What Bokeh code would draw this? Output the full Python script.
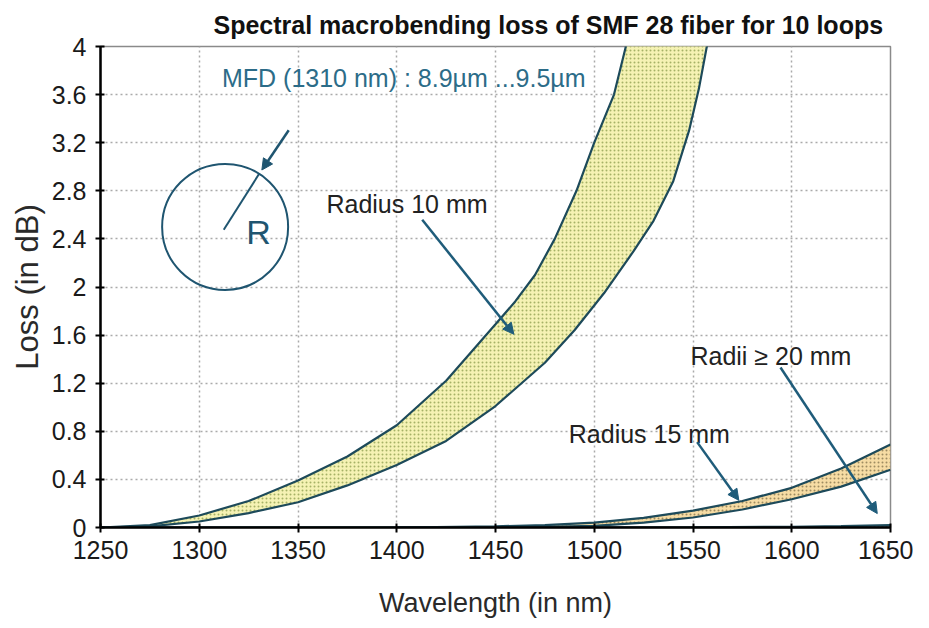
from bokeh.plotting import figure
from bokeh.models import Range1d, Label, Arrow, NormalHead, FixedTicker, Title
from bokeh.embed import file_html
from bokeh.resources import INLINE

# ---- data ----
r10_hi_wl = [1250, 1275, 1300, 1325, 1350, 1375, 1400, 1425, 1450, 1460, 1470, 1480, 1491, 1500, 1510, 1516, 1525]
r10_hi_db = [0.0, 0.02, 0.10, 0.22, 0.39, 0.59, 0.85, 1.22, 1.69, 1.88, 2.10, 2.40, 2.80, 3.20, 3.60, 4.00, 4.60]
r10_lo_wl = [1250, 1275, 1300, 1325, 1350, 1375, 1400, 1425, 1450, 1475, 1490, 1505, 1520, 1530, 1540,
             1548, 1553, 1557, 1565]
r10_lo_db = [0.0, 0.01, 0.05, 0.12, 0.21, 0.35, 0.52, 0.72, 1.01, 1.37, 1.64, 1.95, 2.30, 2.55, 2.88,
             3.30, 3.65, 4.00, 4.70]

r15_wl = [1400, 1450, 1475, 1500, 1525, 1550, 1575, 1600, 1625, 1650]
r15_hi_db = [0.0, 0.01, 0.02, 0.04, 0.08, 0.14, 0.22, 0.33, 0.49, 0.69]
r15_lo_db = [0.0, 0.0, 0.005, 0.014, 0.04, 0.083, 0.15, 0.235, 0.34, 0.48]

r20_wl = [1250, 1500, 1550, 1600, 1625, 1650]
r20_hi_db = [0.0, 0.0, 0.002, 0.006, 0.012, 0.02]
r20_lo_db = [0.0, 0.0, 0.0, 0.0, 0.0, 0.0]

x_ticks = [1250, 1300, 1350, 1400, 1450, 1500, 1550, 1600, 1650]
y_ticks = [0, 0.4, 0.8, 1.2, 1.6, 2.0, 2.4, 2.8, 3.2, 3.6, 4.0]
y_tick_labels = {0: "0", 0.4: "0.4", 0.8: "0.8", 1.2: "1.2", 1.6: "1.6", 2.0: "2", 2.4: "2.4",
                 2.8: "2.8", 3.2: "3.2", 3.6: "3.6", 4.0: "4"}

FONT = "Liberation Sans"
CURVE = "#1d4a5a"
ARROW = "#1f5c7a"
SKETCH = "#1f5570"

p = figure(width=913, height=620, output_backend="svg", toolbar_location=None,
           x_range=Range1d(1250, 1650), y_range=Range1d(0, 4),
           min_border_left=100, min_border_right=23, min_border_top=46, min_border_bottom=91)
p.title = Title(text="Spectral macrobending loss of SMF 28 fiber for 10 loops", align="left",
                offset=113, text_font=FONT, text_font_size="25px", text_font_style="bold",
                text_color="#111111", standoff=16)
p.background_fill_color = "white"
p.border_fill_color = "white"
p.outline_line_color = "#8a8a8a"
p.outline_line_width = 1.5

p.xaxis.ticker = FixedTicker(ticks=x_ticks)
p.yaxis.ticker = FixedTicker(ticks=y_ticks)
p.yaxis.major_label_overrides = y_tick_labels
for ax in (p.xaxis, p.yaxis):
    ax.axis_line_color = "black"
    ax.axis_line_width = 2.5
    ax.major_tick_line_color = "black"
    ax.major_tick_line_width = 2
    ax.major_tick_in = 4
    ax.major_tick_out = 5
    ax.minor_tick_line_color = None
    ax.major_label_text_font = FONT
    ax.major_label_text_font_size = "25px"
    ax.major_label_text_color = "#1a1a1a"
    ax.axis_label_text_font = FONT
    ax.axis_label_text_font_style = "normal"
    ax.axis_label_text_color = "#2a2a2a"
p.xaxis.axis_label = "Wavelength (in nm)"
p.yaxis.axis_label = "Loss (in dB)"
p.xaxis.axis_label_text_font_size = "27px"
p.yaxis.axis_label_text_font_size = "31px"
p.xaxis.axis_label_standoff = 26
p.yaxis.axis_label_standoff = 4
p.xaxis.major_label_standoff = 8
p.yaxis.major_label_standoff = 9

for g in (p.xgrid, p.ygrid):
    g.grid_line_color = "#aaaaaa"
    g.grid_line_dash = "2 3"
    g.grid_line_width = 1.5

# ---- bands ----
def band(wl_hi, hi, wl_lo, lo, fill, dots):
    xs = list(wl_hi) + list(reversed(wl_lo))
    ys = list(hi) + list(reversed(lo))
    p.patch(xs, ys, fill_color=fill, line_color=None, hatch_pattern="dot",
            hatch_color=dots, hatch_scale=4, hatch_weight=1.3, hatch_alpha=0.85)
    p.line(wl_hi, hi, line_color=CURVE, line_width=2.2)
    p.line(wl_lo, lo, line_color=CURVE, line_width=2.2)

band(r10_hi_wl, r10_hi_db, r10_lo_wl, r10_lo_db, "#f5f2b4", "#98a658")
band(r15_wl, r15_hi_db, r15_wl, r15_lo_db, "#f6dca4", "#8e7e56")
band(r20_wl, r20_hi_db, r20_wl, r20_lo_db, "#e8eef0", "#7a8a90")

# ---- bend-radius sketch ----
p.scatter(x=[1313.1], y=[2.50], marker="circle", size=126, fill_color=None,
          line_color=SKETCH, line_width=2)
p.line([1312.4, 1330.5], [2.476, 2.946], line_color=SKETCH, line_width=2)
p.add_layout(Arrow(x_start=1345.3, y_start=3.304, x_end=1331.7, y_end=2.973,
                   line_color=SKETCH, line_width=2.5,
                   end=NormalHead(size=11, fill_color=SKETCH, line_color=SKETCH)))
p.add_layout(Label(x=1330.0, y=2.46, text="R", text_font=FONT, text_font_size="34px",
                   text_color=SKETCH, text_align="center", text_baseline="alphabetic"))

# ---- texts ----
p.add_layout(Label(x=1311.5, y=3.735, text="MFD (1310 nm) : 8.9\u00b5m ...9.5\u00b5m", text_font=FONT,
                   text_font_size="25px", text_color="#2c6c88", text_baseline="alphabetic"))
p.add_layout(Label(x=1364.4, y=2.69, text="Radius 10 mm", text_font=FONT,
                   text_font_size="25px", text_color="#222222", text_baseline="alphabetic"))
p.add_layout(Label(x=1548.7, y=1.425, text="Radii \u2265 20 mm", text_font=FONT,
                   text_font_size="25px", text_color="#222222", text_baseline="alphabetic"))
p.add_layout(Label(x=1487.1, y=0.78, text="Radius 15 mm", text_font=FONT,
                   text_font_size="25px", text_color="#222222", text_baseline="alphabetic"))

for xs, ys, xe, ye in [(1412.9, 2.559, 1459.3, 1.607),
                       (1594.3, 1.331, 1643.3, 0.116),
                       (1552.1, 0.71, 1573.2, 0.226)]:
    p.add_layout(Arrow(x_start=xs, y_start=ys, x_end=xe, y_end=ye, line_color=ARROW, line_width=2.5,
                       end=NormalHead(size=11, fill_color=ARROW, line_color=ARROW)))

open("out.html", "w").write(file_html(p, INLINE))
